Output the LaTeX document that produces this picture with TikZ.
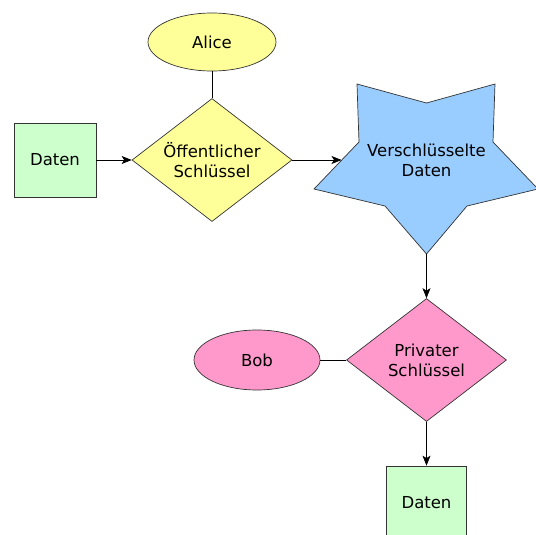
\documentclass[tikz,border=0pt]{standalone}
\usepackage{fontspec}
\setmainfont{DejaVu Sans}
\usetikzlibrary{shapes.geometric,arrows.meta}
\definecolor{gfill}{HTML}{CCFFCC}
\definecolor{yfill}{HTML}{FFFF99}
\definecolor{bfill}{HTML}{99CCFF}
\definecolor{pfill}{HTML}{FF99CC}
\definecolor{edge}{HTML}{333333}
\tikzset{
  lbl/.style={font=\fontsize{16.5}{20}\selectfont, align=center, text=black},
  box/.style={draw=edge, line width=0.7pt, fill=gfill, minimum width=82pt, minimum height=74pt, inner sep=0pt, lbl},
  oval/.style={ellipse, draw=edge, line width=0.7pt, inner sep=0pt, lbl},
  dia/.style={diamond, draw=edge, line width=0.7pt, inner sep=0pt, minimum width=160pt, minimum height=123pt},
  conn/.style={draw=black, line width=0.7pt},
  arr/.style={conn, -{Stealth[length=10pt,width=8pt,inset=2.5pt]}}
}
\begin{document}
\begin{tikzpicture}[x=1pt,y=-1pt]
\path[use as bounding box] (0,0) rectangle (536,535);
\clip (0,0) rectangle (536,535);
% first row
\node[box] (daten1) at (55,160) {Daten};
\node[oval, fill=yfill, minimum width=128pt, minimum height=58pt] (alice) at (212,42) {Alice};
\node[dia, fill=yfill] (pub) at (212,160) {};
\node[lbl] (pubt) at (pub.center) {Öffentlicher\\Schlüssel};
% star
\coordinate (sc) at (426.5,160);
\path[draw=edge, line width=0.7pt, fill=bfill]
  (426.5,254) -- (467,206) -- (538,189) -- (493,142) -- (495,84) -- (426.5,103)
  -- (357,84) -- (359,142) -- (314,189) -- (385,206) -- cycle;
\node[lbl] (star) at (sc) {Verschlüsselte\\Daten};
\coordinate (starin) at (341.5,160);
\coordinate (starbot) at (426.5,254);
% second part
\node[dia, fill=pfill] (priv) at (426.5,360) {};
\node[lbl] (privt) at (priv.center) {Privater\\Schlüssel};
\node[oval, fill=pfill, minimum width=126pt, minimum height=60pt] (bob) at (257,360) {Bob};
\node[box, minimum width=80pt] (daten2) at (426.5,503) {Daten};
% connectors
\draw[conn] (alice.south) -- (pub.north);
\draw[arr] (daten1.east) -- (pub.west);
\draw[arr] (pub.east) -- (starin);
\draw[arr] (starbot) -- (priv.north);
\draw[conn] (bob.east) -- (priv.west);
\draw[arr] (priv.south) -- (daten2.north);
\end{tikzpicture}
\end{document}
